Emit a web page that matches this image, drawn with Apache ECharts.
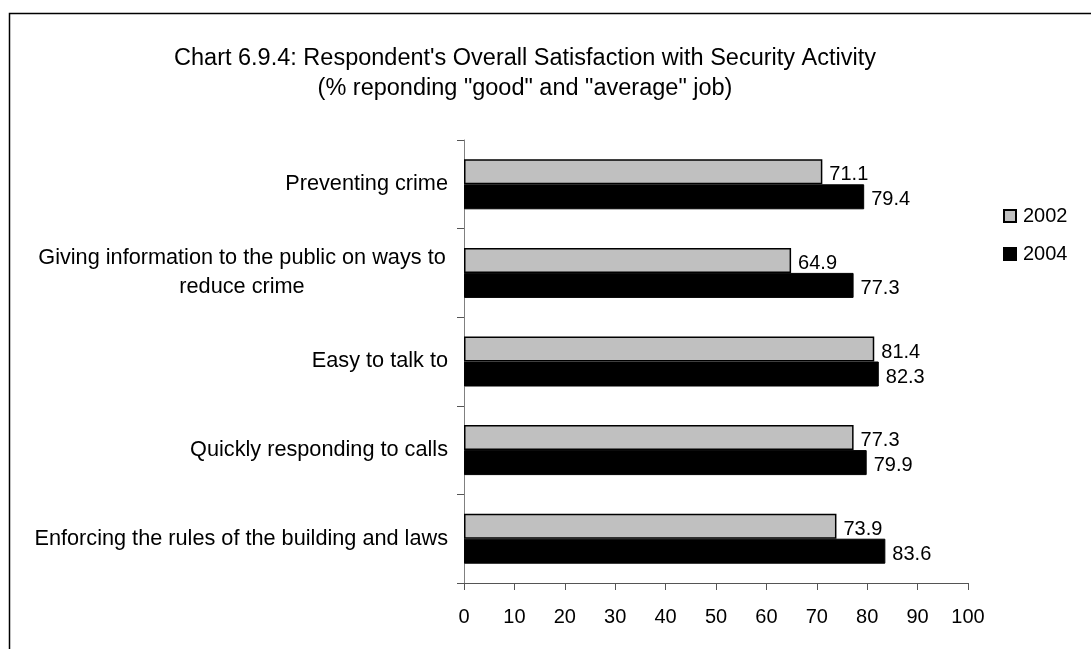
<!DOCTYPE html>
<html>
<head>
<meta charset="utf-8">
<script src="https://cdn.jsdelivr.net/npm/echarts@6/dist/echarts.min.js"></script>
<style>
  html, body { margin: 0; padding: 0; background: #fff; }
  #main { width: 1091px; height: 649px; }
</style>
</head>
<body>
<div id="main"></div>
<script>
var categories = [
  'Preventing crime',
  'Giving information to the public on ways to\nreduce crime',
  'Easy to talk to',
  'Quickly responding to calls',
  'Enforcing the rules of the building and laws'
];
var values2002 = [71.1, 64.9, 81.4, 77.3, 73.9];
var values2004 = [79.4, 77.3, 82.3, 79.9, 83.6];
var seriesNames = ['2002', '2004'];

var font = '"Liberation Sans", Arial, sans-serif';
var chart = echarts.init(document.getElementById('main'));

// multi-line category labels: lines centered on each other
function catLabel(v) {
  if (v.indexOf('\n') < 0) return v;
  return v.split('\n').map(function (s) { return '{m|' + s + '}'; }).join('\n');
}

var barLabel = {
  show: true, position: 'right', distance: 7, offset: [0, 3],
  color: '#000', fontSize: 20, fontFamily: font
};

var option = {
  backgroundColor: '#fff',
  animation: false,
  textStyle: { fontFamily: font },
  graphic: [
    {
      type: 'rect', left: 7, top: 11, z: -10,
      shape: { width: 1100, height: 700 },
      style: { fill: 'none', stroke: '#000', lineWidth: 1.5 }
    },
    {
      type: 'text', x: 525, y: 74,
      style: {
        text: 'Chart 6.9.4: Respondent\'s Overall Satisfaction with Security Activity\n(% reponding "good" and "average" job)',
        align: 'center', verticalAlign: 'middle',
        font: '23.5px ' + font, lineHeight: 30, fill: '#000'
      }
    }
  ],
  legend: {
    orient: 'vertical',
    left: 1003, top: 205, padding: 0,
    itemWidth: 12, itemHeight: 12, itemGap: 16,
    icon: 'rect',
    textStyle: { fontSize: 20, color: '#000', fontFamily: font, lineHeight: 22, padding: [0, 0, 0, 2] },
    data: seriesNames
  },
  grid: { left: 464, right: 123, top: 140, bottom: 66, containLabel: false },
  xAxis: {
    type: 'value', min: 0, max: 100, interval: 10,
    splitLine: { show: false },
    axisLine: { show: true, lineStyle: { color: '#555' } },
    axisTick: { show: true, length: 7, lineStyle: { color: '#555' } },
    axisLabel: { color: '#000', fontSize: 20, margin: 24, fontFamily: font }
  },
  yAxis: {
    type: 'category', inverse: true, data: categories,
    axisLine: { show: true, lineStyle: { color: '#808080' } },
    axisTick: { show: true, length: 7, lineStyle: { color: '#555' } },
    axisLabel: {
      color: '#000', fontSize: 21.7, margin: 16, lineHeight: 29, fontFamily: font,
      formatter: catLabel,
      rich: { m: { width: 412, align: 'center', fontSize: 21.7, lineHeight: 29, fontFamily: font, color: '#000' } }
    }
  },
  series: [
    {
      name: seriesNames[0], type: 'bar', data: values2002,
      barWidth: 25, barGap: '0%',
      itemStyle: { color: '#c0c0c0', borderColor: '#000', borderWidth: 1.5 },
      label: barLabel
    },
    {
      name: seriesNames[1], type: 'bar', data: values2004,
      barWidth: 25, barGap: '0%',
      itemStyle: { color: '#000', borderColor: '#000', borderWidth: 1 },
      label: barLabel
    }
  ]
};
chart.setOption(option);
</script>
</body>
</html>
